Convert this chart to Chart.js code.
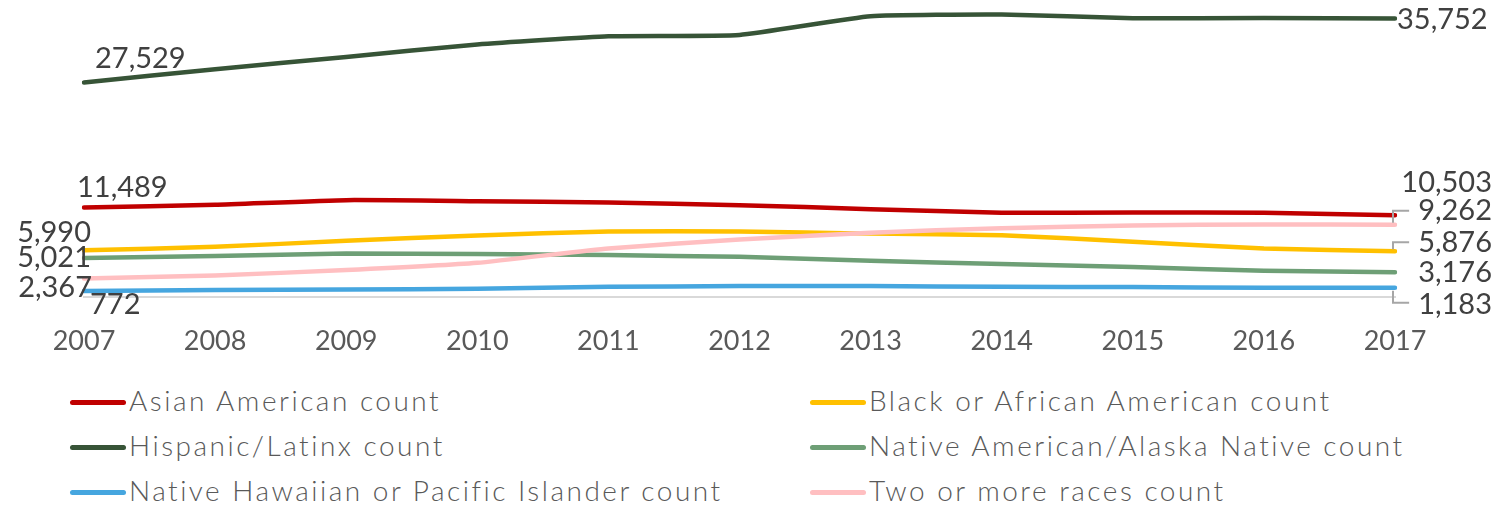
<!DOCTYPE html>
<html>
<head>
<meta charset="utf-8">
<script src="https://cdn.jsdelivr.net/npm/chart.js@4.4.1/dist/chart.umd.min.js"></script>
<style>
  html, body { margin: 0; padding: 0; background: #fff; }
  #wrap { position: relative; width: 1508px; height: 506px; overflow: hidden; }
  #chart-box { position: absolute; left: 0; top: 0; width: 1508px; height: 360px; }
  .legend-item {
    position: absolute; height: 40px; line-height: 40px; white-space: nowrap;
    font-family: Lato, 'Open Sans', sans-serif; font-size: 28px; font-weight: 300;
    letter-spacing: 2.5px; color: #595959;
  }
  .legend-swatch {
    display: inline-block; width: 56px; height: 5px; border-radius: 3px;
    vertical-align: middle; margin-right: 3px; position: relative; top: -2px;
  }
</style>
</head>
<body>
<div id="wrap">
  <div id="chart-box"><canvas id="race-chart"></canvas></div>
  <div id="legend"></div>
</div>
<script>
const years = ['2007', '2008', '2009', '2010', '2011', '2012', '2013', '2014', '2015', '2016', '2017'];

const asianCounts = [11489, 11831, 12434, 12306, 12139, 11793, 11279, 10805, 10856, 10805, 10503];
const blackCounts = [5990, 6442, 7212, 7905, 8418, 8418, 8136, 7943, 7083, 6236, 5876];
const hispanicCounts = [27529, 29245, 30823, 32414, 33479, 33646, 36045, 36264, 35789, 35827, 35752];
const nativeCounts = [5021, 5248, 5595, 5505, 5377, 5158, 4645, 4222, 3837, 3362, 3176];
const hawaiianCounts = [772, 885, 975, 1052, 1309, 1399, 1399, 1309, 1270, 1181, 1183];
const multiCounts = [2367, 2772, 3452, 4389, 6236, 7391, 8238, 8841, 9188, 9316, 9262];

const seriesNames = [
  'Asian American count',
  'Black or African American count',
  'Hispanic/Latinx count',
  'Native American/Alaska Native count',
  'Native Hawaiian or Pacific Islander count',
  'Two or more races count',
];
const seriesValues = [asianCounts, blackCounts, hispanicCounts, nativeCounts, hawaiianCounts, multiCounts];
const seriesColors = ['#C00000', '#FFC000', '#375437', '#6E9F76', '#46A6DF', '#FFBFC1'];

// label placement per series: [first point, last point]
// dx/dy offset from the point, align, optional leader ('up' / 'down')
const labelPlacement = [
  [{ dx: -7, dy: -20, align: 'left' }, { dx: 97, dy: -33, align: 'right' }],
  [{ dx: 7, dy: -18, align: 'right' }, { dx: 97, dy: -9, align: 'right', leader: 'down' }],
  [{ dx: 11, dy: -24, align: 'left' }, { dx: 2, dy: 1, align: 'left' }],
  [{ dx: 7, dy: 0, align: 'right' }, { dx: 97, dy: 0, align: 'right' }],
  [{ dx: 6, dy: 14, align: 'left' }, { dx: 97, dy: 17, align: 'right', leader: 'up' }],
  [{ dx: 8, dy: 9, align: 'right' }, { dx: 97, dy: -14, align: 'right', leader: 'down' }],
];

const formatCount = (value) => Number(value).toLocaleString('en-US');

const endLabels = {
  id: 'endLabels',
  afterDatasetsDraw(chart) {
    const { ctx } = chart;
    ctx.save();
    ctx.font = '29px Lato, "Open Sans", sans-serif';
    ctx.fillStyle = '#404040';
    ctx.textBaseline = 'middle';
    chart.data.datasets.forEach((ds, i) => {
      const meta = chart.getDatasetMeta(i);
      [0, ds.data.length - 1].forEach((idx, k) => {
        const pt = meta.data[idx];
        const place = labelPlacement[i][k];
        const text = formatCount(ds.data[idx]);
        const tx = pt.x + place.dx;
        const ty = pt.y + place.dy;
        ctx.textAlign = place.align;
        ctx.fillText(text, tx, ty);
        if (place.leader) {
          const w = ctx.measureText(text).width;
          const left = tx - w - 9;
          ctx.strokeStyle = '#A6A6A6';
          ctx.lineWidth = 2;
          ctx.beginPath();
          if (place.leader === 'down') {
            ctx.moveTo(left, ty);
            ctx.lineTo(pt.x - 2, ty);
            ctx.lineTo(pt.x - 2, pt.y - 2);
          } else {
            ctx.moveTo(pt.x - 2, pt.y + 3);
            ctx.lineTo(pt.x - 2, ty - 2);
            ctx.lineTo(left, ty - 2);
          }
          ctx.stroke();
        }
      });
    });
    ctx.restore();
  },
};

const buildLegend = () => {
  const legend = document.getElementById('legend');
  const rowCenters = [400, 445, 490];
  seriesNames.forEach((name, i) => {
    const item = document.createElement('div');
    item.className = 'legend-item';
    item.style.left = (i % 2 === 0 ? 70 : 810) + 'px';
    item.style.top = (rowCenters[Math.floor(i / 2)] - 20) + 'px';
    item.innerHTML = `<span class="legend-swatch" style="background:${seriesColors[i]}"></span>${name}`;
    legend.appendChild(item);
  });
};

const init = () => {
  const ctx = document.getElementById('race-chart');
  new Chart(ctx, {
    type: 'line',
    data: {
      labels: years,
      datasets: seriesNames.map((name, i) => ({
        label: name,
        data: seriesValues[i],
        borderColor: seriesColors[i],
        backgroundColor: seriesColors[i],
        borderWidth: 4.5,
        borderCapStyle: 'round',
        borderJoinStyle: 'round',
        tension: 0.15,
        pointRadius: 0,
        fill: false,
        order: seriesNames.length - i,
      })),
    },
    options: {
      responsive: true,
      maintainAspectRatio: false,
      animation: false,
      layout: { padding: { left: 84, right: 113, top: 1, bottom: 0 } },
      plugins: {
        legend: { display: false },
        tooltip: { enabled: false },
      },
      scales: {
        x: {
          offset: false,
          grid: { display: false },
          border: { display: true, color: '#D9D9D9', width: 2 },
          ticks: {
            color: '#595959',
            padding: 20,
            maxRotation: 0,
            autoSkip: false,
            font: { family: 'Lato, "Open Sans", sans-serif', size: 27 },
          },
          afterFit: (scale) => { scale.height = 63; },
        },
        y: {
          display: false,
          min: 0,
          max: 38000,
        },
      },
    },
    plugins: [endLabels],
  });
  buildLegend();
};

window.addEventListener('DOMContentLoaded', init);
</script>
</body>
</html>
